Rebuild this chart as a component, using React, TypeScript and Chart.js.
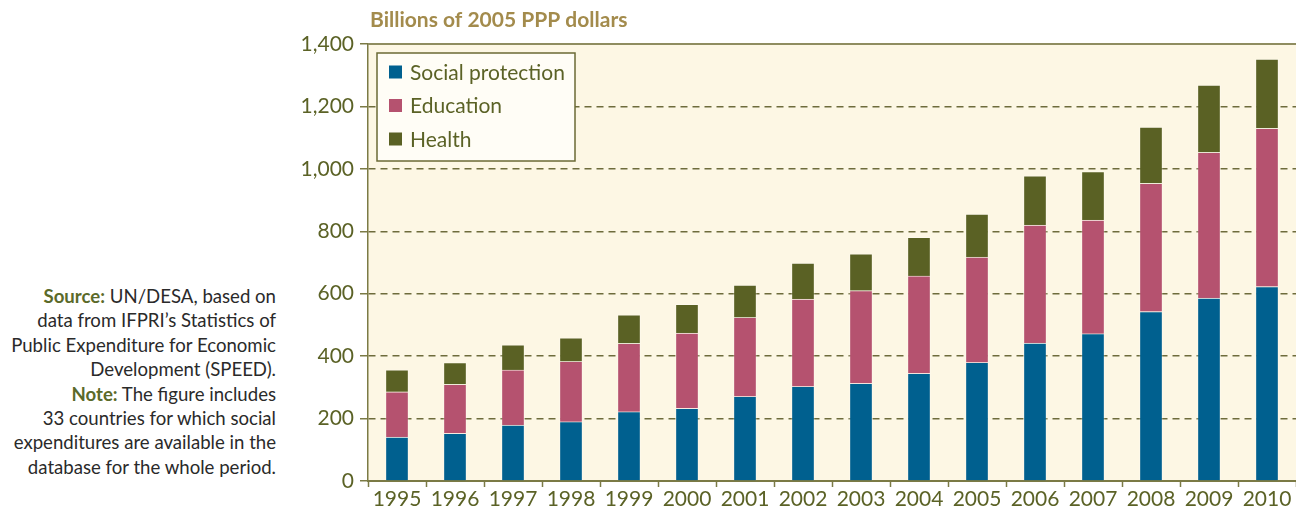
import React, { useEffect, useRef } from "react";
import { Chart, registerables } from "chart.js";

Chart.register(...registerables);

const years = ["1995", "1996", "1997", "1998", "1999", "2000", "2001", "2002", "2003", "2004", "2005", "2006", "2007", "2008", "2009", "2010"];
const socialProtection = [141, 153, 179, 190, 222, 233, 271, 303, 313, 345, 380, 442, 472, 543, 586, 623];
const education = [145, 157, 177, 193, 219, 241, 253, 280, 297, 312, 337, 378, 364, 411, 467, 507];
const health = [70, 69, 80, 76, 91, 92, 104, 115, 118, 124, 138, 158, 155, 180, 215, 222];
const yTicks = [0, 200, 400, 600, 800, 1000, 1200, 1400];

const TEXT = "#5b6226";
const FONT = "Lato, 'Open Sans', sans-serif";

const decorPlugin = {
  id: "decor",
  beforeDraw(chart: any) {
    const { ctx, chartArea } = chart;
    ctx.save();
    ctx.fillStyle = "#fdf7e4";
    ctx.fillRect(chartArea.left, chartArea.top, chartArea.right - chartArea.left, chartArea.bottom - chartArea.top);
    ctx.restore();
  },
  afterDatasetsDraw(chart: any) {
    const { ctx, chartArea } = chart;
    ctx.save();
    // top border
    ctx.strokeStyle = "#8f8d60";
    ctx.lineWidth = 2;
    ctx.beginPath();
    ctx.moveTo(chartArea.left, chartArea.top);
    ctx.lineTo(chartArea.right, chartArea.top);
    ctx.stroke();
    // title
    ctx.fillStyle = "#a38b4c";
    ctx.font = `bold 21px ${FONT}`;
    ctx.textBaseline = "middle";
    ctx.textAlign = "left";
    ctx.fillText("Billions of 2005 PPP dollars", chartArea.left + 2, 20);
    // legend
    const bx = chartArea.left + 9;
    const by = chartArea.top + 9;
    const bw = 198;
    const bh = 108;
    ctx.fillStyle = "#fffdf6";
    ctx.fillRect(bx, by, bw, bh);
    ctx.strokeStyle = "#6b6a35";
    ctx.lineWidth = 1.5;
    ctx.strokeRect(bx, by, bw, bh);
    ctx.font = `21px ${FONT}`;
    chart.data.datasets.forEach((ds: any, i: number) => {
      const cy = by + 19 + i * 33.5;
      ctx.fillStyle = ds.backgroundColor;
      ctx.fillRect(bx + 12, cy - 6.5, 13, 13);
      ctx.fillStyle = TEXT;
      ctx.fillText(ds.label, bx + 33, cy + 1);
    });
    ctx.restore();
  },
};

export default function App() {
  const ref = useRef<HTMLCanvasElement | null>(null);

  useEffect(() => {
    if (!ref.current) return;
    const chart = new Chart(ref.current, {
      type: "bar",
      data: {
        labels: years,
        datasets: [
          { label: "Social protection", data: socialProtection, backgroundColor: "#00608f", borderColor: "rgba(255,255,255,0.3)", borderWidth: 1, barThickness: 23 },
          { label: "Education", data: education, backgroundColor: "#b5526f", borderColor: "rgba(255,255,255,0.3)", borderWidth: 1, barThickness: 23 },
          { label: "Health", data: health, backgroundColor: "#5a6124", borderColor: "rgba(255,255,255,0.3)", borderWidth: 1, barThickness: 23 },
        ],
      },
      options: {
        animation: false,
        responsive: true,
        maintainAspectRatio: false,
        layout: { padding: { top: 44, right: 0, left: 0, bottom: 0 } },
        plugins: { legend: { display: false }, tooltip: { enabled: false }, title: { display: false } },
        scales: {
          x: {
            stacked: true,
            grid: { display: true, drawOnChartArea: false, drawTicks: true, tickLength: 6, tickColor: "#7b7a45", tickWidth: 1.5, offset: true },
            border: { display: true, color: "#7b7a45", width: 2 },
            ticks: { color: TEXT, font: { family: FONT, size: 21 }, padding: 0, maxRotation: 0, autoSkip: false },
            afterFit: (s: any) => { s.height = 35; },
          },
          y: {
            stacked: true,
            min: 0,
            max: 1400,
            afterBuildTicks: (s: any) => { s.ticks = yTicks.map((v) => ({ value: v })); },
            grid: { color: "#6e6c3c", lineWidth: 1.5, drawTicks: true, tickLength: 8, tickColor: "#7b7a45", tickWidth: 1.5 },
            border: { display: true, color: "#7b7a45", width: 1.5, dash: [7, 5] },
            ticks: {
              color: TEXT,
              font: { family: FONT, size: 21 },
              padding: 6,
              callback: (v: any) => Number(v).toLocaleString("en-US"),
            },
            afterFit: (s: any) => { s.width = 78; },
          },
        },
      },
      plugins: [decorPlugin],
    });
    return () => chart.destroy();
  }, []);

  const noteStyle: React.CSSProperties = {
    position: "absolute",
    left: 0,
    top: 284,
    width: 276,
    textAlign: "right",
    fontFamily: FONT,
    fontSize: 18.6,
    lineHeight: "24.4px",
    color: "#2a2a2a",
  };
  const bold: React.CSSProperties = { fontWeight: "bold", color: "#5b6a2a" };

  return (
    <div style={{ position: "absolute", left: 0, top: 0, width: 1296, height: 516, background: "#ffffff" }}>
      <div style={noteStyle}>
        <span style={bold}>Source:</span> UN/DESA, based on<br />
        data from IFPRI’s Statistics of<br />
        Public Expenditure for Economic<br />
        Development (SPEED).<br />
        <span style={bold}>Note:</span> The figure includes<br />
        33 countries for which social<br />
        expenditures are available in the<br />
        database for the whole period.
      </div>
      <div style={{ position: "absolute", left: 290, top: 0, width: 1006, height: 516 }}>
        <canvas ref={ref} />
      </div>
    </div>
  );
}
